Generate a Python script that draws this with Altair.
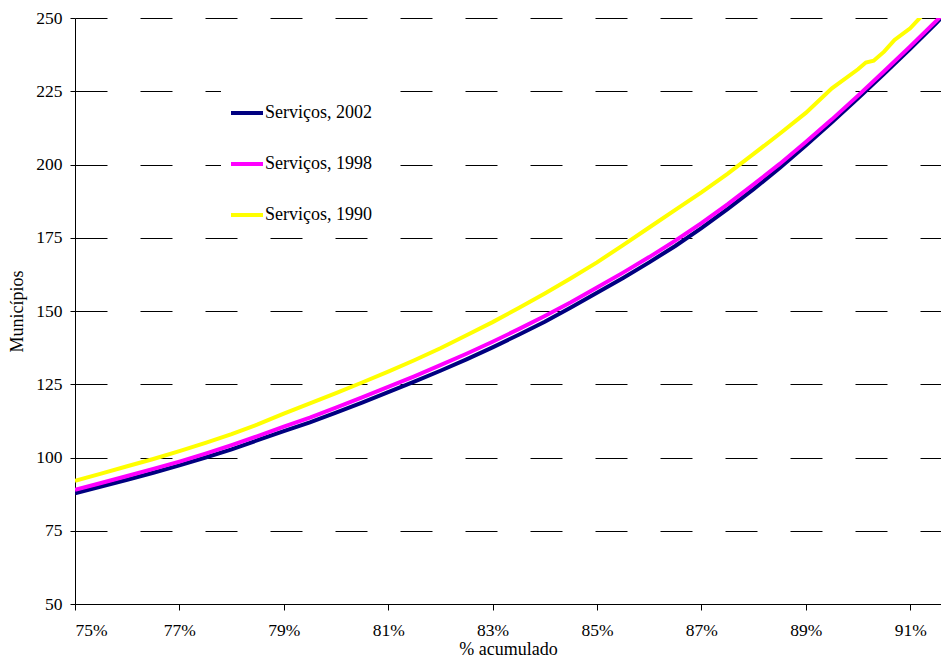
import altair as alt
import pandas as pd

series_names = ["Serviços, 2002", "Serviços, 1998", "Serviços, 1990"]
series_colors = ["#000080", "#FF00FF", "#FFFF00"]

x_common = [75.0, 75.5, 76.0, 76.5, 77.0, 77.5, 78.0, 78.5, 79.0, 79.5,
            80.0, 80.5, 81.0, 81.5, 82.0, 82.5, 83.0, 83.5, 84.0, 84.5,
            85.0, 85.5, 86.0, 86.5, 87.0, 87.5, 88.0, 88.5, 89.0, 89.5,
            90.0, 90.5, 91.0, 91.5, 92.0]

y_2002 = [87.8, 90.1, 92.4, 94.8, 97.3, 100.0, 102.8, 105.9, 109.0, 112.0,
          115.3, 118.7, 122.3, 125.9, 129.6, 133.5, 137.6, 141.9, 146.3, 151.2,
          156.2, 161.3, 166.6, 172.2, 178.3, 184.8, 191.6, 198.8, 206.5, 214.4,
          222.6, 231.0, 239.5, 248.3, 257.5]

y_1998 = [89.0, 91.3, 93.7, 96.1, 98.6, 101.3, 104.2, 107.3, 110.5, 113.6,
          117.0, 120.5, 124.1, 127.7, 131.5, 135.4, 139.5, 143.8, 148.3, 153.0,
          158.0, 163.1, 168.4, 174.0, 180.0, 186.4, 193.2, 200.2, 207.7, 215.4,
          223.5, 231.8, 240.3, 249.0, 258.0]

x_1990 = [75.0, 75.5, 76.0, 76.5, 77.0, 77.5, 78.0, 78.5, 79.0, 79.5,
          80.0, 80.5, 81.0, 81.5, 82.0, 82.5, 83.0, 83.5, 84.0, 84.5,
          85.0, 85.5, 86.0, 86.5, 87.0, 87.5, 88.0, 88.5, 89.0, 89.5,
          90.0, 90.15, 90.3, 90.5, 90.7, 91.0, 91.5, 92.0]
y_1990 = [92.0, 94.5, 97.0, 99.5, 102.2, 105.0, 108.0, 111.3, 115.0, 118.5,
          122.0, 125.6, 129.3, 133.2, 137.3, 141.7, 146.2, 151.0, 156.0, 161.2,
          166.6, 172.5, 178.5, 184.5, 190.5, 196.8, 203.6, 210.5, 217.6, 226.0,
          232.5, 234.8, 235.4, 238.5, 242.5, 246.5, 256.0, 265.0]

x_ticks = [75, 77, 79, 81, 83, 85, 87, 89, 91]
y_ticks = [50, 75, 100, 125, 150, 175, 200, 225, 250]

rows = []
for k, (name, xs, ys) in enumerate([(series_names[0], x_common, y_2002),
                                     (series_names[1], x_common, y_1998),
                                     (series_names[2], x_1990, y_1990)]):
    for x, y in zip(xs, ys):
        rows.append({"pct": x, "val": y, "serie": name, "k": k})
df = pd.DataFrame(rows)

FONT = "Liberation Serif"

chart = alt.Chart(df).mark_line(strokeWidth=4, clip=True).encode(
    x=alt.X("pct:Q",
            scale=alt.Scale(domain=[75, 91.59], nice=False, zero=False),
            axis=alt.Axis(values=x_ticks, labelExpr="datum.value + '%'",
                          title="% acumulado", grid=False, tickSize=6,
                          labelPadding=11, titlePadding=2)),
    y=alt.Y("val:Q",
            scale=alt.Scale(domain=[50, 250], nice=False, zero=False),
            axis=alt.Axis(values=y_ticks, title="Municípios", grid=True,
                          gridDash=[32, 33], gridColor="#000000", gridWidth=1,
                          tickSize=5, labelPadding=8, titlePadding=9)),
    color=alt.Color("serie:N",
                    scale=alt.Scale(domain=series_names, range=series_colors),
                    legend=alt.Legend(title=None, orient="none", legendX=146, legendY=69,
                                      symbolType="stroke", symbolSize=1024,
                                      symbolStrokeWidth=4, rowPadding=24,
                                      labelFont=FONT, labelFontSize=18,
                                      labelColor="#000000", labelOffset=0,
                                      padding=8, fillColor="#ffffff")),
).properties(
    width=866, height=586,
    autosize=alt.AutoSizeParams(type="none"),
    padding={"left": 67, "top": 10, "right": 0, "bottom": 54},
).configure_view(stroke=None).configure_axis(
    labelFont=FONT, labelFontSize=17.5, labelColor="#000000",
    titleFont=FONT, titleFontSize=18, titleFontWeight="normal", titleColor="#000000",
    domainColor="#000000", tickColor="#000000", domainWidth=1, tickWidth=1,
)

chart.save("out.html", embed_options={"renderer": "svg", "actions": False})
